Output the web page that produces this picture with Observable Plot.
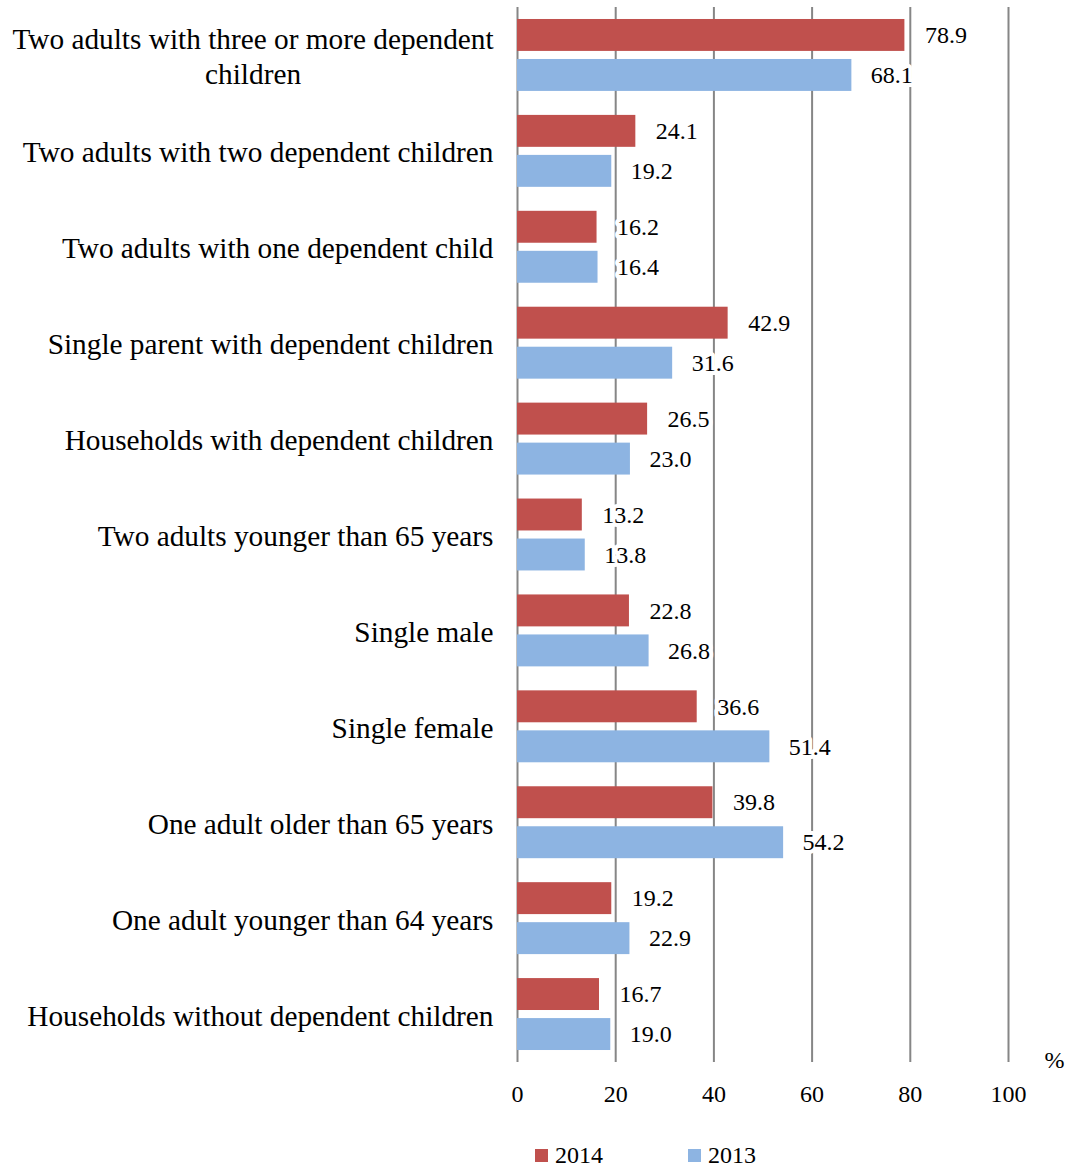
<!DOCTYPE html>
<html>
<head>
<meta charset="utf-8">
<script src="https://cdn.jsdelivr.net/npm/d3@7"></script>
<script src="https://cdn.jsdelivr.net/npm/@observablehq/plot@0.6"></script>
<style>
  body { margin: 0; background: #fff; font-family: "Liberation Serif", "Times New Roman", serif; }
  #legend { height: 30px; font-size: 24px; color: #000; margin-top: 15px; position: relative; }
  .sw { display: inline-block; width: 13px; height: 13px; margin-right: 7px; }
  .item { display: flex; align-items: center; position: absolute; top: 0; height: 30px; }
</style>
</head>
<body>
<div id="chart"></div>
<div id="legend"></div>
<script>
const categories = [
  "Two adults with three or more dependent children",
  "Two adults with two dependent children",
  "Two adults with one dependent child",
  "Single parent with dependent children",
  "Households with dependent children",
  "Two adults younger than 65 years",
  "Single male",
  "Single female",
  "One adult older than 65 years",
  "One adult younger than 64 years",
  "Households without dependent children"
];
const values2014 = [78.9, 24.1, 16.2, 42.9, 26.5, 13.2, 22.8, 36.6, 39.8, 19.2, 16.7];
const values2013 = [68.1, 19.2, 16.4, 31.6, 23.0, 13.8, 26.8, 51.4, 54.2, 22.9, 19.0];
const series = ["2014", "2013"];
const colors = ["#C0504D", "#8DB4E2"];
const xTicks = [0, 20, 40, 60, 80, 100];
const unitLabel = "%";

const FONT = "Liberation Serif";
const data2014 = categories.map((c, i) => ({category: c, value: values2014[i], year: "2014"}));
const data2013 = categories.map((c, i) => ({category: c, value: values2013[i], year: "2013"}));

const wrapLabel = c => c === categories[0] ? "Two adults with three or more dependent\nchildren" : c;

const plot = Plot.plot({
  width: 1070,
  height: 1125,
  marginTop: 7,
  marginBottom: 63,
  marginLeft: 517,
  marginRight: 62,
  style: {fontFamily: FONT, color: "#000", background: "#fff"},
  x: {domain: [0, 100], ticks: xTicks, label: null},
  y: {domain: categories, paddingInner: 0.25, paddingOuter: 0.125, round: false, label: null},
  marks: [
    Plot.ruleX(xTicks, {stroke: "#868686", strokeWidth: 2}),
    Plot.barX(data2014, {x: "value", y: "category", fill: colors[0], insetBottom: 40}),
    Plot.barX(data2013, {x: "value", y: "category", fill: colors[1], insetTop: 40}),
    Plot.text(data2014, {x: "value", y: "category", text: d => d.value.toFixed(1), dy: -20, dx: 20, textAnchor: "start", fontSize: 24, fontFamily: FONT, fill: "#000", stroke: "#fff", strokeWidth: 8, paintOrder: "stroke"}),
    Plot.text(data2013, {x: "value", y: "category", text: d => d.value.toFixed(1), dy: 20, dx: 19, textAnchor: "start", fontSize: 24, fontFamily: FONT, fill: "#000", stroke: "#fff", strokeWidth: 8, paintOrder: "stroke"}),
    Plot.axisX({ticks: xTicks, tickSize: 0, tickPadding: 22, fontSize: 24, fontFamily: FONT, label: null}),
    Plot.axisY({tickSize: 0, tickPadding: 24, fontSize: 29.3, fontFamily: FONT, tickFormat: wrapLabel, label: null, lineHeight: 1.17}),
    Plot.text([unitLabel], {frameAnchor: "bottom-right", dx: 56, dy: 5, fontSize: 24, fontFamily: FONT, fill: "#000"})
  ]
});
document.getElementById("chart").appendChild(plot);

// Center the wrapped label lines (as in the original)
plot.querySelectorAll("text").forEach(t => {
  const spans = t.querySelectorAll("tspan");
  if (spans.length > 1) {
    const bb = t.getBBox();
    t.setAttribute("text-anchor", "middle");
    spans.forEach(s => s.setAttribute("x", bb.x + bb.width / 2));
  }
});

const legend = document.getElementById("legend");
const positions = [535, 688];
series.forEach((s, i) => {
  const item = document.createElement("div");
  item.className = "item";
  item.style.left = positions[i] + "px";
  item.innerHTML = `<span class="sw" style="background:${colors[i]}"></span><span>${s}</span>`;
  legend.appendChild(item);
});
</script>
</body>
</html>
